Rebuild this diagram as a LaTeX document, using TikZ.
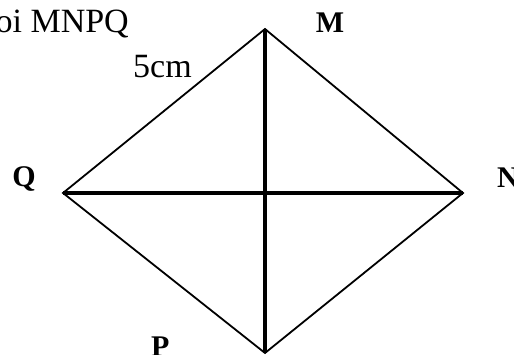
\documentclass[tikz,border=0pt]{standalone}
\usepackage{fontspec}
\setmainfont{Liberation Serif}
\begin{document}
\begin{tikzpicture}[x=1pt,y=-1pt,
  edge/.style={line width=1.8pt},
  diag/.style={line width=3.6pt},
  lbl/.style={font=\fontsize{30}{34}\selectfont\bfseries, inner sep=0pt},
  txt/.style={font=\fontsize{34}{40}\selectfont, inner sep=0pt}]
\useasboundingbox (0,0) rectangle (514,355);
\coordinate (M) at (265,29);
\coordinate (N) at (463,193);
\coordinate (P) at (265,353);
\coordinate (Q) at (63,193);
\draw[edge, line join=miter] (M) -- (N) -- (P) -- (Q) -- cycle;
\draw[diag] (Q) -- (N);
\draw[diag] (M) -- (P);
\node[lbl, anchor=base] (lM) at (330,33) {M};
\node[lbl, anchor=base] (lQ) at (24,187) {Q};
\node[lbl, anchor=base west] (lN) at (497,188) {N};
\node[lbl, anchor=base west] (lP) at (151,356) {P};
\node[txt, anchor=base west] (len) at (133,78) {5cm};
\node[txt, anchor=base east] (title) at (129,33) {Hình thoi MNPQ};
\end{tikzpicture}
\end{document}
